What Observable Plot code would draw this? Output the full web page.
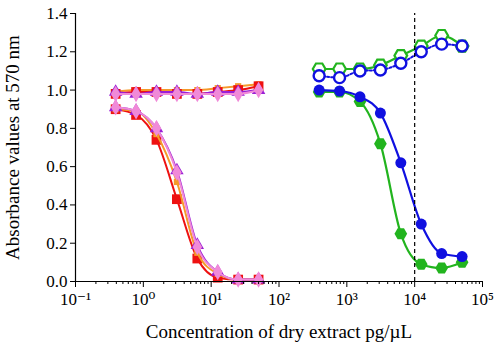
<!DOCTYPE html>
<html>
<head>
<meta charset="utf-8">
<script src="https://cdn.jsdelivr.net/npm/d3@7"></script>
<script src="https://cdn.jsdelivr.net/npm/@observablehq/plot@0.6"></script>
<style>
  html, body { margin: 0; padding: 0; background: #fff; }
  #chart svg { display: block; }
</style>
</head>
<body>
<div id="chart"></div>
<script>
// Concentrations (pg/µL)
const leftConc = [0.390625, 0.78125, 1.5625, 3.125, 6.25, 12.5, 25, 50];
const rightConc = [390.625, 781.25, 1562.5, 3125, 6250, 12500, 25000, 50000];

// Left cluster: flat series
const redFlat    = [0.98, 0.99, 0.99, 0.98, 0.98, 0.99, 1.00, 1.02];
const orangeFlat = [0.99, 1.00, 1.00, 1.00, 1.00, 1.01, 1.02, 1.03];
const purpleFlat = [0.99, 0.98, 0.99, 0.99, 0.98, 0.99, 0.99, 1.00];
const pinkFlat   = [0.98, 0.98, 0.98, 0.98, 0.98, 0.98, 0.98, 1.00];

// Left cluster: decreasing series
const redDown    = [0.90, 0.87, 0.74, 0.43, 0.12, 0.02, 0.01, 0.01];
const orangeDown = [0.90, 0.89, 0.77, 0.52, 0.15, 0.04, 0.01, 0.01];
const purpleDown = [0.91, 0.89, 0.80, 0.58, 0.19, 0.05, 0.01, 0.01];
const pinkDown   = [0.91, 0.89, 0.80, 0.57, 0.18, 0.05, 0.01, 0.01];

// Right cluster
const blueFilled  = [1.00, 0.995, 0.965, 0.88, 0.62, 0.30, 0.146, 0.13];
const greenFilled = [0.99, 0.99, 0.94, 0.72, 0.25, 0.09, 0.07, 0.10];
const blueOpen    = [1.075, 1.065, 1.10, 1.105, 1.14, 1.20, 1.24, 1.23];
const greenOpen   = [1.11, 1.11, 1.11, 1.13, 1.18, 1.23, 1.285, 1.23];

const refLineX = 10000;

const xMajor = [0.1, 1, 10, 100, 1000, 10000, 100000];
const xMajorLabels = ["10⁻¹", "10⁰", "10¹", "10²", "10³", "10⁴", "10⁵"];
const yTicks = [0, 0.2, 0.4, 0.6, 0.8, 1.0, 1.2, 1.4];

const xMinor = [];
for (let k = 0; k < xMajor.length - 1; k++) for (let m = 2; m <= 9; m++) xMinor.push(xMajor[k] * m);

const toRows = (xs, ys) => xs.map((x, i) => ({x, y: ys[i]}));

const RED = "#ee1111", ORANGE = "#f59a2a", PURPLE = "#9a1fd6", PINK = "#f08ad8";
const GREEN = "#22b41e", BLUE = "#1010e0";

const series = [
  {data: toRows(leftConc, orangeFlat), color: ORANGE, symbol: "square", r: 3.5},
  {data: toRows(leftConc, redFlat), color: RED, symbol: "square", r: 5.5},
  {data: toRows(leftConc, purpleFlat), color: PURPLE, symbol: "triangle", r: 5},
  {data: toRows(leftConc, pinkFlat), color: PINK, symbol: "diamond", r: 5},
  {data: toRows(leftConc, redDown), color: RED, symbol: "square", r: 5.5},
  {data: toRows(leftConc, orangeDown), color: ORANGE, symbol: "square", r: 3.5},
  {data: toRows(leftConc, purpleDown), color: PURPLE, symbol: "triangle", r: 5},
  {data: toRows(leftConc, pinkDown), color: PINK, symbol: "diamond", r: 5},
];

const marks = [];
for (const s of series) {
  marks.push(Plot.line(s.data, {x: "x", y: "y", stroke: s.color, strokeWidth: 2, curve: "monotone-x"}));
  marks.push(Plot.dot(s.data, {x: "x", y: "y", symbol: s.symbol, r: s.r, fill: s.color, stroke: "none"}));
}

// Right cluster
const gO = toRows(rightConc, greenOpen), bO = toRows(rightConc, blueOpen);
const gF = toRows(rightConc, greenFilled), bF = toRows(rightConc, blueFilled);
marks.push(
  Plot.line(gO, {x: "x", y: "y", stroke: GREEN, strokeWidth: 2.2, curve: "monotone-x"}),
  Plot.dot(gO, {x: "x", y: "y", symbol: "hexagon", rotate: 90, r: 5.5, stroke: GREEN, strokeWidth: 2.2, fill: "white"}),
  Plot.line(bO, {x: "x", y: "y", stroke: BLUE, strokeWidth: 2, strokeDasharray: "2,2", curve: "monotone-x"}),
  Plot.dot(bO, {x: "x", y: "y", symbol: "circle", r: 5.5, stroke: BLUE, strokeWidth: 2.4, fill: "white"}),
  Plot.line(gF, {x: "x", y: "y", stroke: GREEN, strokeWidth: 2.2, curve: "monotone-x"}),
  Plot.dot(gF, {x: "x", y: "y", symbol: "hexagon", rotate: 90, r: 5.5, fill: GREEN}),
  Plot.line(bF, {x: "x", y: "y", stroke: BLUE, strokeWidth: 2.2, curve: "monotone-x"}),
  Plot.dot(bF, {x: "x", y: "y", symbol: "circle", r: 5.5, fill: BLUE}),
  Plot.ruleX([refLineX], {y1: 0, y2: 1.4, stroke: "black", strokeWidth: 1.2, strokeDasharray: "4,3"})
);

const chart = Plot.plot({
  width: 500,
  height: 356,
  marginLeft: 75,
  marginRight: 18,
  marginTop: 13,
  marginBottom: 75,
  style: {fontFamily: "'Liberation Serif', 'DejaVu Serif', serif", fontSize: "17px", color: "black", background: "white"},
  x: {type: "log", domain: [0.1, 100000]},
  y: {domain: [0, 1.4]},
  marks: [
    ...marks,
    Plot.axisX({ticks: xMinor, tickSize: 3, tickFormat: () => "", label: null}),
    Plot.axisX({ticks: xMajor, tickSize: 6, tickPadding: 5, fontSize: 17,
      tickFormat: (d) => xMajorLabels[xMajor.indexOf(d)],
      label: "Concentration of dry extract pg/µL", labelAnchor: "center", labelArrow: "none", labelOffset: 56}),
    Plot.axisY({ticks: yTicks, tickSize: 5, tickPadding: 3, fontSize: 17, tickFormat: d3.format(".1f"),
      label: "Absorbance values at 570 nm", labelAnchor: "center", labelArrow: "none", labelOffset: 70}),
    Plot.ruleX([0.1], {stroke: "black", strokeWidth: 1.2}),
    Plot.ruleY([0], {stroke: "black", strokeWidth: 1.2})
  ]
});
chart.querySelectorAll("[aria-label='x-axis label'] text, [aria-label='y-axis label'] text").forEach(t => t.style.fontSize = "19px");
document.getElementById("chart").appendChild(chart);
</script>
</body>
</html>
